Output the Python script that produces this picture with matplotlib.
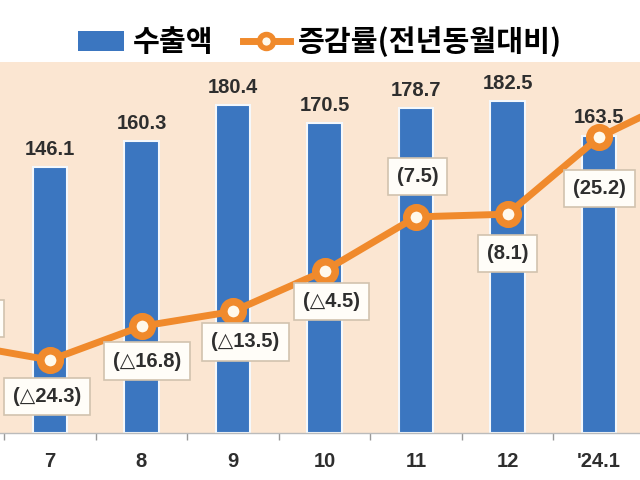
import matplotlib
matplotlib.use("Agg")
import matplotlib.pyplot as plt
from matplotlib.patches import Patch
from matplotlib.lines import Line2D

plt.rcParams['font.family'] = ['Liberation Sans', 'Noto Sans CJK KR', 'DejaVu Sans']

# Data (the first and last categories lie partly outside the visible frame)
categories = ['6', '7', '8', '9', '10', '11', '12', "'24.1", '2']
exports = [175.0, 146.1, 160.3, 180.4, 170.5, 178.7, 182.5, 163.5, 165.0]
growth = [-20.7, -24.3, -16.8, -13.5, -4.5, 7.5, 8.1, 25.2, 35.0]
growth_labels = ['(△20.7)', '(△24.3)', '(△16.8)', '(△13.5)', '(△4.5)',
                 '(7.5)', '(8.1)', '(25.2)', '(35.0)']
bar_label_text = ['175.0', '146.1', '160.3', '180.4', '170.5', '178.7', '182.5', '163.5', '165.0']
legend_labels = ['수출액', '증감률(전년동월대비)']

# label offsets in points relative to markers
label_dy = [18, -26, -25, -22, -22, 29, -28, -37, -30]
label_dx = [2, -2, 4, 9, 5, 1, 0, 0, 12]

BLUE = '#3B76C0'
ORANGE = '#F08A2C'
BG = '#FBE6D2'
TXT = '#2e2e2e'

fig = plt.figure(figsize=(6.4, 4.8), dpi=100)
fig.patch.set_facecolor('white')
ax = fig.add_axes([0, 47 / 480, 1, 371 / 480])
ax.set_facecolor(BG)

x = list(range(len(categories)))
ax.bar(x, exports, width=0.38, color=BLUE, edgecolor='#F4F8FC', linewidth=1.5, zorder=2)
ax.set_ylim(0, 204)

for xi, v, t in zip(x, exports, bar_label_text):
    ax.annotate(t, (xi, v), xytext=(0, 6), textcoords='offset points',
                ha='center', va='bottom', fontsize=14.5, color=TXT,
                weight='bold', zorder=5)

ax.set_xticks(x)
ax.set_xticklabels(categories, fontsize=14.5, color=TXT, weight='bold')
ax.tick_params(axis='x', which='major', length=0, pad=14)
ax.set_xticks([xi + 0.5 for xi in x[:-1]], minor=True)
ax.tick_params(axis='x', which='minor', length=5, color='#999999', width=1)
ax.set_yticks([])
for s in ['top', 'left', 'right']:
    ax.spines[s].set_visible(False)
ax.spines['bottom'].set_color('#BBBBBB')
ax.spines['bottom'].set_linewidth(1)

ax2 = ax.twinx()
ax2.plot(x, growth, color=ORANGE, linewidth=5, marker='o', markersize=14,
         markerfacecolor='#FFF9EC', markeredgecolor=ORANGE, markeredgewidth=5.5,
         zorder=3, solid_capstyle='round')
ax2.set_ylim(-40.5, 41.9)
ax2.set_yticks([])
for s in ['top', 'left', 'right', 'bottom']:
    ax2.spines[s].set_visible(False)
for i, (xi, g, t, dy, dx) in enumerate(zip(x, growth, growth_labels, label_dy, label_dx)):
    ax2.annotate(t, (xi, g), xytext=(dx, dy), textcoords='offset points',
                 ha='center', va='center', fontsize=14.5, color=TXT,
                 weight='bold', family=['Liberation Sans', 'DejaVu Sans'],
                 bbox=dict(boxstyle='square,pad=0.45', facecolor='#FFFDF8',
                           edgecolor='#D2C3AE', linewidth=1.2),
                 zorder=6, annotation_clip=(i == len(x) - 1))

# visible window: category '7' centred 50 px from the left, 91.5 px spacing
ax.set_xlim(1 - 50 / 91.5, 1 + 590 / 91.5)

handles = [Patch(facecolor=BLUE, edgecolor='none'),
           Line2D([0], [0], color=ORANGE, linewidth=5, marker='o', markersize=10,
                  markerfacecolor='#FFF9EC', markeredgecolor=ORANGE, markeredgewidth=4)]
fig.legend(handles, legend_labels, loc='center', bbox_to_anchor=(0.5, 1 - 42 / 480),
           ncol=2, frameon=False, handlelength=1.6, handletextpad=0.3,
           columnspacing=1.0,
           prop={'family': ['Noto Sans CJK KR'], 'weight': 'bold', 'size': 21})

fig.savefig('out.png', dpi=100, facecolor='white')
